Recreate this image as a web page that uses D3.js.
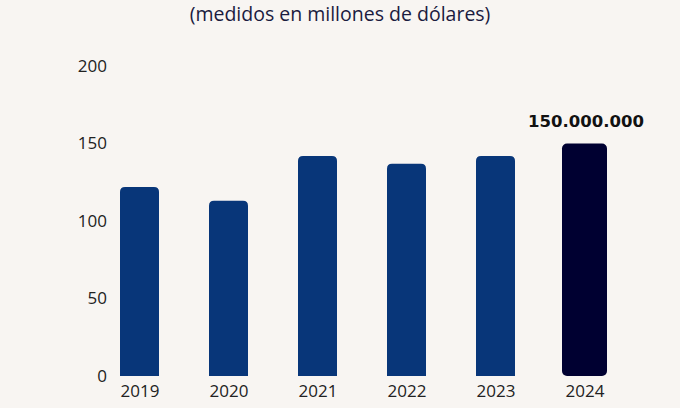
<!DOCTYPE html>
<html>
<head>
<meta charset="utf-8">
<script src="https://cdn.jsdelivr.net/npm/d3@7"></script>
<style>
  html, body { margin:0; padding:0; background:#f8f5f2; }
  svg { display:block; font-family:"Open Sans", sans-serif; }
</style>
</head>
<body>
<script>
// data
var years = ["2019","2020","2021","2022","2023","2024"];
var values = [122, 113, 142, 137, 142, 150];
var yTicks = [0, 50, 100, 150, 200];
var highlightLabel = "150.000.000";
var subtitle = "(medidos en millones de dólares)";

var width = 680, height = 408;

var svg = d3.select("body").append("svg")
    .attr("width", width)
    .attr("height", height);

var x = d3.scalePoint().domain(years).range([139.5, 584.5]);
var y = d3.scaleLinear().domain([0, 200]).range([376, 66]);

svg.append("text")
    .attr("x", width/2)
    .attr("y", 21)
    .attr("text-anchor", "middle")
    .attr("font-size", "19.5px")
    .attr("fill", "#1b1b3f")
    .text(subtitle);

// y axis (labels only)
var yAxis = d3.axisLeft(y).tickValues(yTicks).tickSize(0).tickPadding(0);
var gy = svg.append("g").attr("transform", "translate(107,0)").call(yAxis);
gy.select(".domain").remove();
gy.selectAll("text").attr("font-size", "17px").attr("fill", "#222").attr("font-family", "Open Sans, sans-serif");

// x axis (labels only)
var xAxis = d3.axisBottom(x).tickSize(0).tickPadding(0);
var gx = svg.append("g").attr("transform", "translate(0,385)").call(xAxis);
gx.select(".domain").remove();
gx.selectAll("text").attr("font-size", "17px").attr("fill", "#222").attr("font-family", "Open Sans, sans-serif");

function topRounded(cx, w, top, bottom, r) {
    var x0 = cx - w/2, x1 = cx + w/2;
    return "M" + x0 + "," + bottom +
        "L" + x0 + "," + (top + r) +
        "Q" + x0 + "," + top + " " + (x0 + r) + "," + top +
        "L" + (x1 - r) + "," + top +
        "Q" + x1 + "," + top + " " + x1 + "," + (top + r) +
        "L" + x1 + "," + bottom + "Z";
}

var last = years.length - 1;

svg.selectAll("path.bar")
    .data(values.slice(0, last))
    .enter()
    .append("path")
    .attr("class", "bar")
    .attr("d", function(d, i){ return topRounded(x(years[i]), 39, y(d), y(0), 5); })
    .attr("fill", "#083679");

svg.append("rect")
    .attr("x", x(years[last]) - 22.5)
    .attr("y", y(values[last]))
    .attr("width", 45)
    .attr("height", y(0) - y(values[last]))
    .attr("rx", 5)
    .attr("fill", "#000031");

svg.append("text")
    .attr("x", x(years[last]) + 1.5)
    .attr("y", y(values[last]) - 17)
    .attr("text-anchor", "middle")
    .attr("font-family", "DejaVu Sans, sans-serif")
    .attr("font-size", "16.5px")
    .attr("font-weight", "bold")
    .attr("fill", "#111")
    .text(highlightLabel);
</script>
</body>
</html>
